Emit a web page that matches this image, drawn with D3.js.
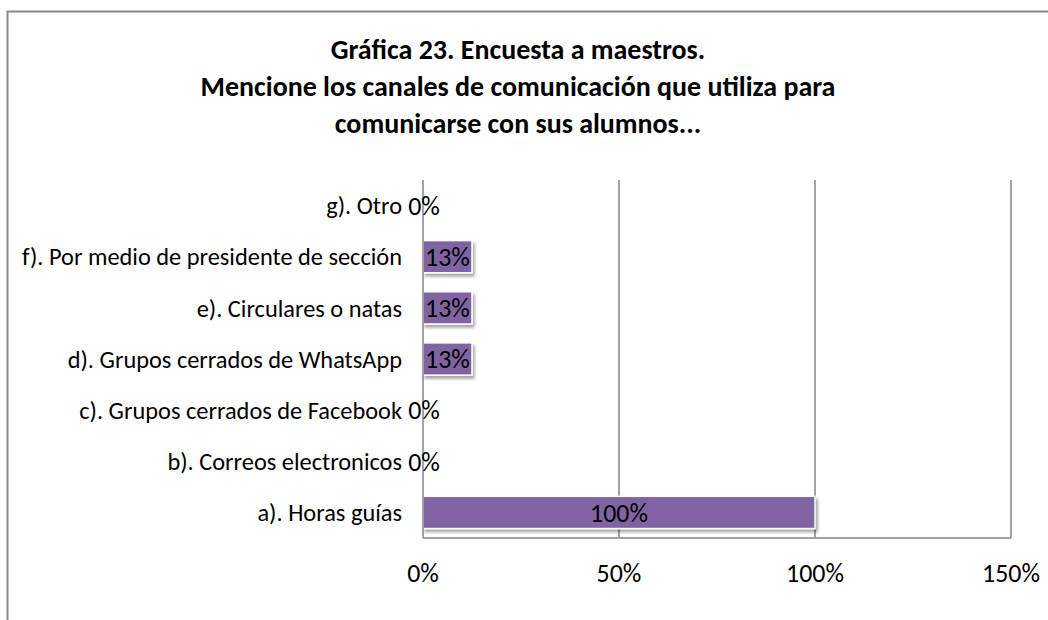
<!DOCTYPE html>
<html><head><meta charset="utf-8">
<script src="https://cdn.jsdelivr.net/npm/d3@7"></script>
<style>
html,body{margin:0;padding:0;background:#fff;}
svg text{font-family:Carlito, Calibri, Lato, "Open Sans", sans-serif;}
</style></head>
<body><svg id="chart" width="1048" height="620"></svg>
<script>
const titleLines = ["Gráfica 23. Encuesta a maestros.",
  "Mencione los canales de comunicación que utiliza para",
  "comunicarse con sus alumnos..."];
const categories = ["a). Horas guías","b). Correos electronicos","c). Grupos cerrados de Facebook",
  "d). Grupos cerrados de WhatsApp","e). Circulares o natas","f). Por medio de presidente de sección","g). Otro"];
const values = [1.00, 0, 0, 0.125, 0.125, 0.125, 0];
const xTicks = [0, 0.5, 1.0, 1.5];

const svg = d3.select("#chart");
const fmt = v => Math.round(v*100) + "%";

const defs = svg.append("defs");
const f = defs.append("filter").attr("id","sh").attr("x","-10%").attr("y","-20%").attr("width","130%").attr("height","160%");
f.append("feDropShadow").attr("dx",2).attr("dy",3).attr("stdDeviation",1.5).attr("flood-color","#000").attr("flood-opacity",0.35);

// outer border
svg.append("rect").attr("x",7.5).attr("y",11.5).attr("width",1100).attr("height",700)
  .attr("fill","#fff").attr("stroke","#8a8a8a").attr("stroke-width",2);

const x = d3.scaleLinear().domain([0,1.5]).range([423,1011]);
const y = d3.scaleBand().domain(categories).range([538,180]).paddingInner(0.37).paddingOuter(0.185);

// gridlines
svg.append("g").selectAll("line").data(xTicks.slice(1)).join("line")
  .attr("x1",d=>x(d)).attr("x2",d=>x(d)).attr("y1",180).attr("y2",538)
  .attr("stroke","#868686").attr("stroke-width",1.5);
svg.append("line").attr("x1",x(0)).attr("x2",x(1.5)).attr("y1",538).attr("y2",538)
  .attr("stroke","#868686").attr("stroke-width",1.5);

// bars
svg.append("g").selectAll("rect").data(values).join("rect")
  .attr("x",x(0)).attr("y",(d,i)=>y(categories[i]))
  .attr("width",d=>Math.max(0,x(d)-x(0))).attr("height",y.bandwidth())
  .attr("fill","#8064A2").attr("stroke","#fff").attr("stroke-width",1.5)
  .attr("filter",d=>d>0?"url(#sh)":null)
  .style("display",d=>d>0?null:"none");

// y axis line
svg.append("line").attr("x1",x(0)).attr("x2",x(0)).attr("y1",180).attr("y2",538)
  .attr("stroke","#868686").attr("stroke-width",1.5);

// category labels
const catG = svg.append("g").selectAll("text").data(categories).join("text")
  .attr("x",402).attr("y",d=>y(d)+y.bandwidth()/2).attr("dy","0.36em")
  .attr("text-anchor","end").attr("font-size",18).attr("fill","#000").text(d=>d);

// data labels
const dl = svg.append("g").selectAll("text").data(values).join("text")
  .attr("x",d=>(x(0)+x(d))/2 + (d>0?0:1)).attr("y",(d,i)=>y(categories[i])+y.bandwidth()/2).attr("dy","0.36em")
  .attr("text-anchor","middle").attr("font-size",18).attr("fill","#000").text(d=>fmt(d));

// x tick labels
const tk = svg.append("g").selectAll("text").data(xTicks).join("text")
  .attr("x",d=>x(d)).attr("y",582)
  .attr("text-anchor","middle").attr("font-size",18).attr("fill","#000").text(d=>fmt(d));

// title
const tt = svg.append("g").selectAll("text").data(titleLines).join("text")
  .attr("x",518).attr("y",(d,i)=>49+i*37).attr("dy","0.35em")
  .attr("text-anchor","middle").attr("font-size",22).attr("font-weight","bold").attr("fill","#000").text(d=>d);

// fit font sizes to reference widths
const longest = catG.filter(d=>d===categories[5]).node();
catG.attr("font-size",18*380/longest.getComputedTextLength());
const hundred = dl.filter(d=>d===1).node();
const fsNum = 18*58/hundred.getComputedTextLength();
dl.attr("font-size",fsNum);
tk.attr("font-size",fsNum);
const t2 = tt.filter((d,i)=>i===1).node();
tt.attr("font-size",22*635/t2.getComputedTextLength());
</script></body></html>
